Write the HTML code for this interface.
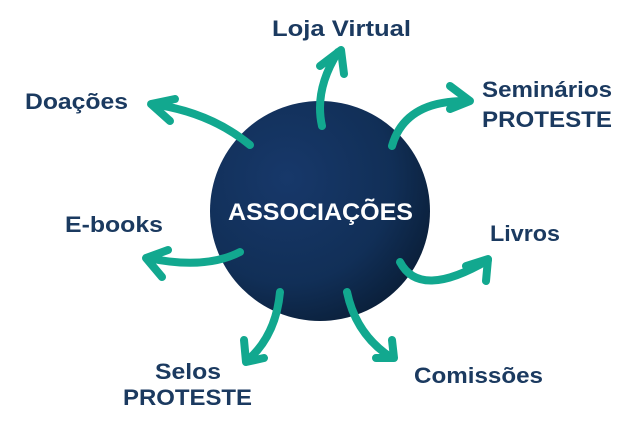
<!DOCTYPE html>
<html><head><meta charset="utf-8"><style>
html,body{margin:0;padding:0;background:#fff;}
svg{display:block}
text{font-family:"Liberation Sans",sans-serif;font-weight:bold;fill:#1b3a60;}
</style></head><body>
<svg width="640" height="424" viewBox="0 0 640 424" xmlns="http://www.w3.org/2000/svg">
<defs>
<radialGradient id="g" cx="0.35" cy="0.35" r="0.8">
<stop offset="0" stop-color="#17386a"/>
<stop offset="0.6" stop-color="#112f57"/>
<stop offset="1" stop-color="#081a30"/>
</radialGradient>
</defs>
<circle cx="320" cy="211" r="110" fill="url(#g)"/>
<text x="228" y="220" font-size="24" style="fill:#fff" textLength="185" lengthAdjust="spacingAndGlyphs">ASSOCIAÇÕES</text>
<g fill="none" stroke="#12a88f" stroke-width="8" stroke-linecap="round" stroke-linejoin="round">
<path d="M322 126 Q314 90 338 52"/>
<polyline points="320,66 341,50 344,74"/>
<path d="M392 146 Q405 100 468 101"/>
<polyline points="450,86 470,101 450,109"/>
<path d="M400 262 Q420 300 488 260"/>
<polyline points="466,266 488,259 486,281"/>
<path d="M347 292 Q356 335 392 358"/>
<polyline points="376,358 394,358 392,340"/>
<path d="M280 292 Q276 335 248 360"/>
<polyline points="244,340 246,362 264,358"/>
<path d="M240 252 Q205 270 148 258"/>
<polyline points="162,277 146,258 168,250"/>
<path d="M250 145 Q210 112 152 104"/>
<polyline points="170,121 151,104 175,99"/>
</g>
<text x="272" y="36" font-size="22" textLength="139" lengthAdjust="spacingAndGlyphs">Loja Virtual</text>
<text x="25" y="109" font-size="22" textLength="103" lengthAdjust="spacingAndGlyphs">Doações</text>
<text x="482" y="97" font-size="22" textLength="130" lengthAdjust="spacingAndGlyphs">Seminários</text>
<text x="482" y="127" font-size="22" textLength="130" lengthAdjust="spacingAndGlyphs">PROTESTE</text>
<text x="490" y="241" font-size="22" textLength="70" lengthAdjust="spacingAndGlyphs">Livros</text>
<text x="65" y="232" font-size="22" textLength="98" lengthAdjust="spacingAndGlyphs">E-books</text>
<text x="155" y="379" font-size="22" textLength="66" lengthAdjust="spacingAndGlyphs">Selos</text>
<text x="123" y="405" font-size="22" textLength="129" lengthAdjust="spacingAndGlyphs">PROTESTE</text>
<text x="414" y="383" font-size="22" textLength="129" lengthAdjust="spacingAndGlyphs">Comissões</text>
</svg>
</body></html>
